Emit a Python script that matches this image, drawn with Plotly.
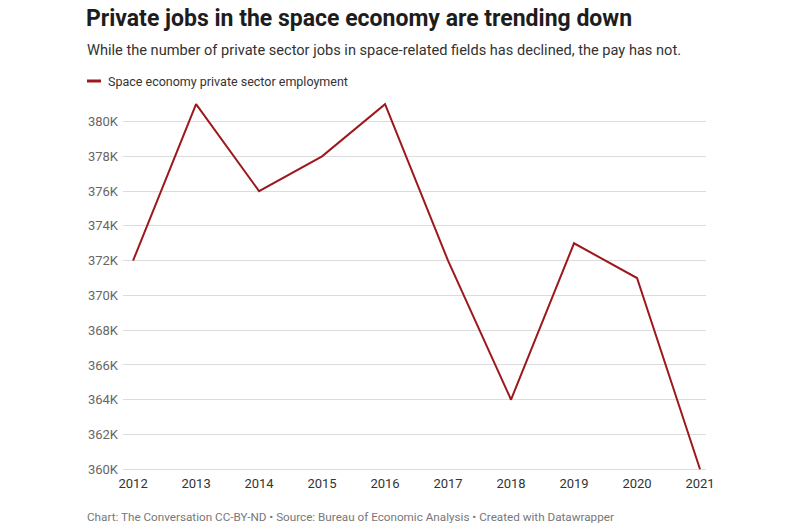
import plotly.graph_objects as go

years = [2012, 2013, 2014, 2015, 2016, 2017, 2018, 2019, 2020, 2021]
employment_k = [372, 381, 376, 378, 381, 372, 364, 373, 371, 360]
y_ticks = [360, 362, 364, 366, 368, 370, 372, 374, 376, 378, 380]
y_tick_labels = [f"{v}K" for v in y_ticks]
series_name = "Space economy private sector employment"
title = "Private jobs in the space economy are trending down"
subtitle = "While the number of private sector jobs in space-related fields has declined, the pay has not."
footer = "Chart: The Conversation CC-BY-ND • Source: Bureau of Economic Analysis • Created with Datawrapper"

W, H = 800, 530
L, R, T, B = 123, 94, 99, 59
pw, ph = W - L - R, H - T - B

def px(x):
    return (x - L) / pw

def py(y):
    return (H - B - y) / ph

LINE = "#9d181c"
FONT = "Roboto"

fig = go.Figure()
fig.add_trace(go.Scatter(
    x=years, y=employment_k, mode="lines", name=series_name,
    line=dict(color=LINE, width=2), showlegend=False,
))

fig.update_layout(
    width=W, height=H,
    margin=dict(l=L, r=R, t=T, b=B),
    paper_bgcolor="white", plot_bgcolor="white",
    font=dict(family=FONT, color="#333"),
    title=dict(text=f"<b>{title}</b>", x=86 / W, xanchor="left", xref="container",
               y=1 - 18 / H, yanchor="middle", yref="container",
               font=dict(size=23, color="#1d1d1d", family=FONT)),
    xaxis=dict(range=[2011.84, 2021.095], tickvals=years, ticktext=[str(y) for y in years],
               showgrid=False, zeroline=False, showline=False,
               tickfont=dict(size=13, color="#333"), ticks="", ticklabelstandoff=3),
    yaxis=dict(range=[359.9, 381.3], tickvals=y_ticks, ticktext=y_tick_labels,
               showgrid=True, gridcolor="#dcdcdc", gridwidth=1, zeroline=False, showline=False,
               tickfont=dict(size=13, color="#666"), ticks="", ticklabelstandoff=4),
    showlegend=False,
    annotations=[
        dict(text=subtitle, x=px(85), y=py(50), xref="paper", yref="paper",
             xanchor="left", yanchor="middle", showarrow=False,
             font=dict(size=14.6, color="#333", family=FONT)),
        dict(text=series_name, x=px(106), y=py(81), xref="paper", yref="paper",
             xanchor="left", yanchor="middle", showarrow=False,
             font=dict(size=12.5, color="#333", family=FONT)),
        dict(text=footer, x=px(85), y=py(517), xref="paper", yref="paper",
             xanchor="left", yanchor="middle", showarrow=False,
             font=dict(size=11.7, color="#777", family=FONT)),
    ],
    shapes=[
        dict(type="line", xref="paper", yref="paper", x0=px(87), x1=px(101),
             y0=py(81), y1=py(81), line=dict(color=LINE, width=3)),
    ],
)

fig.write_html("out.html")
